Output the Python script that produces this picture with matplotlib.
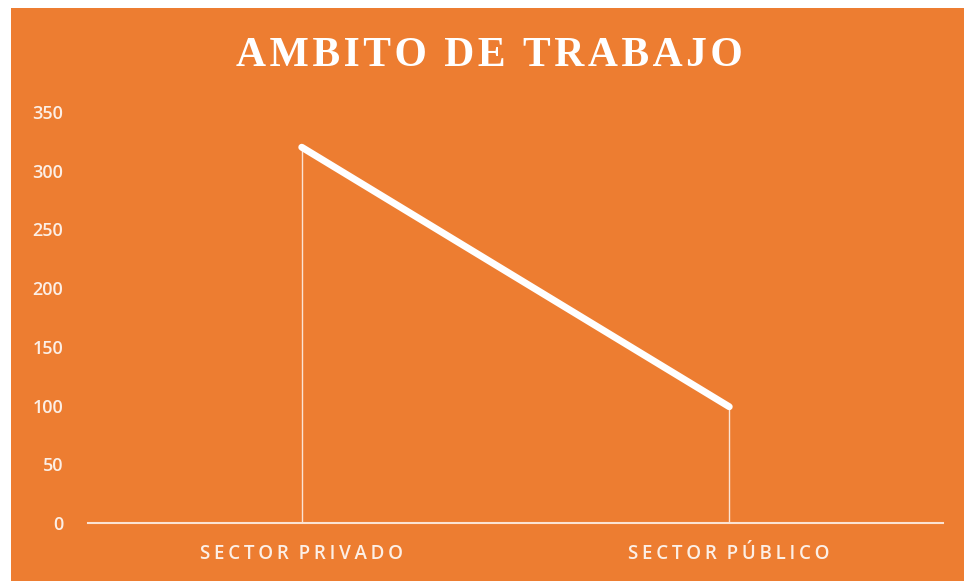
import matplotlib.pyplot as plt
import numpy as np

# data
categorias = ['SECTOR PRIVADO', 'SECTOR PÚBLICO']
valores = [320, 99]
yticks = [0, 50, 100, 150, 200, 250, 300, 350]

naranja = '#ED7D31'
blanco = '#FFFFFF'
texto = '#FCEFE6'

fig = plt.figure(figsize=(9.64, 5.81), dpi=100)
fig.patch.set_facecolor('white')
# orange chart area (white strip on the left and top edges)
fondo = fig.add_axes([11 / 964, 0, 1 - 11 / 964, 1 - 8 / 581])
fondo.set_facecolor(naranja)
fondo.set_xticks([])
fondo.set_yticks([])
for s in fondo.spines.values():
    s.set_visible(False)

ax = fig.add_axes([88 / 964, 58 / 581, (943 - 88) / 964, (523 - 112) / 581])
ax.patch.set_alpha(0)
x = np.arange(len(categorias))

# drop lines
ax.vlines(x, 0, valores, color='#FBE3D3', linewidth=1)
ax.plot(x, valores, color=blanco, linewidth=5, solid_capstyle='round')

ax.set_xlim(-0.5, len(categorias) - 0.5)
ax.set_ylim(0, 350)
ax.set_yticks(yticks)
ax.set_yticklabels([str(v) for v in yticks], fontsize=13, color=texto,
                   family='Open Sans', fontweight='semibold')
ax.set_xticks(x)
espaciado = ['\u2009'.join(c).replace('\u2009 \u2009', '  ') for c in categorias]
ax.set_xticklabels(espaciado, fontsize=13.5, color=texto,
                   family='Open Sans', fontweight='semibold')
ax.tick_params(axis='y', length=0, pad=18)
ax.tick_params(axis='x', length=0, pad=15)
for s in ['top', 'right', 'left']:
    ax.spines[s].set_visible(False)
ax.spines['bottom'].set_color('#FBE3D3')
ax.spines['bottom'].set_linewidth(1.5)

titulo = '\u200a'.join('AMBITO DE TRABAJO')
fig.text(489 / 964, 1 - 56 / 581, titulo,
         ha='center', va='center', fontsize=30, fontweight='bold',
         family='Liberation Serif', color=blanco)

fig.savefig('out.png', dpi=100, facecolor=fig.get_facecolor())
